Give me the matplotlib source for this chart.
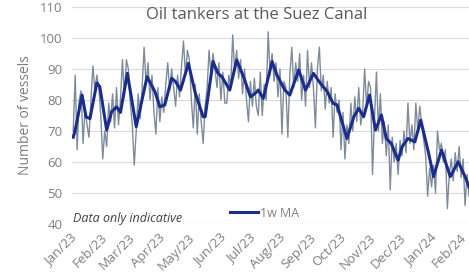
import matplotlib
matplotlib.use("Agg")
import numpy as np
import pandas as pd
import matplotlib.pyplot as plt
import matplotlib.dates as mdates
from matplotlib.transforms import ScaledTranslation

plt.rcParams["font.family"] = ["Open Sans", "DejaVu Sans"]

# ---- data ----
START = pd.Timestamp("2023-01-01")

# daily count, sampled every 2 days from 1 Jan 2023
raw_vals = [
    70, 88, 64, 80, 83, 66, 77, 72, 68, 80, 91, 83, 88, 84, 75, 61, 70, 65, 79, 73,
    82, 71, 84, 72, 80, 93, 81, 93, 90, 79, 72, 59, 70, 82, 74, 84, 97, 85, 92, 80,
    88, 76, 69, 84, 73, 81, 76, 85, 92, 83, 90, 84, 78, 88, 81, 91, 99, 88, 96, 93,
    80, 71, 85, 69, 82, 73, 66, 78, 84, 96, 88, 95, 90, 84, 92, 80, 89, 79, 79, 88,
    84, 101, 89, 96, 87, 93, 82, 90, 80, 73, 86, 78, 87, 78, 75, 89, 75, 85, 80, 102,
    88, 95, 86, 92, 81, 90, 69, 86, 84, 68, 88, 97, 84, 92, 86, 95, 80, 88, 78, 96,
    84, 92, 84, 71, 90, 97, 83, 88, 77, 86, 79, 84, 68, 82, 76, 80, 64, 76, 61, 72,
    66, 79, 70, 81, 73, 84, 72, 76, 90, 78, 86, 84, 56, 74, 89, 70, 82, 66, 73, 62,
    72, 51, 68, 60, 66, 56, 67, 62, 70, 63, 79, 66, 72, 64, 79, 70, 78, 72, 67, 62,
    49, 58, 52, 59, 50, 70, 64, 66, 60, 64, 45, 56, 61, 54, 63, 57, 65, 55, 61, 46,
    56, 49,
]

# one-week moving average, key points (days since 1 Jan 2023)
ma_days = [
    0, 2, 9, 13, 17, 24, 27, 34, 39, 44, 48, 55, 64, 75, 83, 88, 93, 100, 104, 109,
    117, 124, 132, 134, 142, 147, 151, 159, 166, 173, 180, 185, 188, 193, 202, 207,
    215, 220, 229, 236, 244, 251, 258, 264, 268, 278, 285, 290, 295, 301, 307, 313,
    318, 323, 330, 334, 340, 347, 353, 361, 366, 374, 383, 391, 398, 402,
]
ma_vals = [
    68, 70.3, 81.6, 74.6, 74, 85.5, 84.3, 70.3, 76.2, 77.8, 76, 88.6, 71.4, 87.5, 82.7,
    77.8, 78.4, 87, 85.9, 83.2, 91.8, 82.2, 74.6, 74.6, 92.4, 88.6, 87.5, 83.2, 92.9,
    87.5, 81, 82.2, 83.2, 80.5, 92.4, 88, 83.2, 81.6, 89.7, 83.2, 88.6, 85.4, 82.7,
    78.9, 78.4, 67.6, 74.6, 77.3, 74.6, 81.6, 70.3, 75.2, 67.6, 66, 60.6, 64.9, 67.6,
    66.5, 73.5, 62.8, 55.3, 63.9, 55.3, 60.1, 55.3, 52,
]

raw_dates = pd.date_range(START, periods=len(raw_vals), freq="2D")
ma_dates = START + pd.to_timedelta(ma_days, unit="D")

GREY_TXT = "#7f7f7f"

fig = plt.figure(figsize=(4.69, 2.77), dpi=100)
ax = fig.add_axes([0.154, 0.191, 0.846, 0.784])

ax.plot(raw_dates, raw_vals, color="#7e8b9b", lw=1.0, zorder=2)
ax.plot(ma_dates, ma_vals, color="#1b2d8c", lw=2.2, label="1w MA", zorder=3)

ax.set_ylim(40, 110)
ax.set_yticks(range(40, 111, 10))
ax.set_xlim(START - pd.Timedelta(days=1), START + pd.Timedelta(days=402))
ax.xaxis.set_major_locator(mdates.MonthLocator())
ax.xaxis.set_major_formatter(mdates.DateFormatter("%b/%y"))

ax.grid(axis="y", color="#d9d9d9", lw=0.8, zorder=0)
for s in ax.spines.values():
    s.set_visible(False)
ax.tick_params(length=0, colors=GREY_TXT, labelsize=9.5, pad=7)
ax.tick_params(axis="x", labelsize=9.5, pad=5)
shift = ScaledTranslation(-3 / 100, 0, fig.dpi_scale_trans)
for lab in ax.get_xticklabels():
    lab.set_rotation(45)
    lab.set_ha("right")
    lab.set_rotation_mode("anchor")
    lab.set_transform(lab.get_transform() + shift)

ax.set_ylabel("Number of vessels", color=GREY_TXT, fontsize=10, labelpad=5)

ax.text(0.466, 0.963, "Oil tankers at the Suez Canal", transform=ax.transAxes,
        ha="center", va="center", fontsize=12, color="#595959")
ax.text(0.003, 0.025, "Data only indicative", transform=ax.transAxes,
        ha="left", va="center", fontsize=9, style="italic", color="#404040")

ax.legend(loc="center left", bbox_to_anchor=(0.398, 0.05), frameon=False,
          borderpad=0, borderaxespad=0, handlelength=2.2, handletextpad=0.2,
          fontsize=9, labelcolor=GREY_TXT)

fig.savefig("out.png", dpi=100)
